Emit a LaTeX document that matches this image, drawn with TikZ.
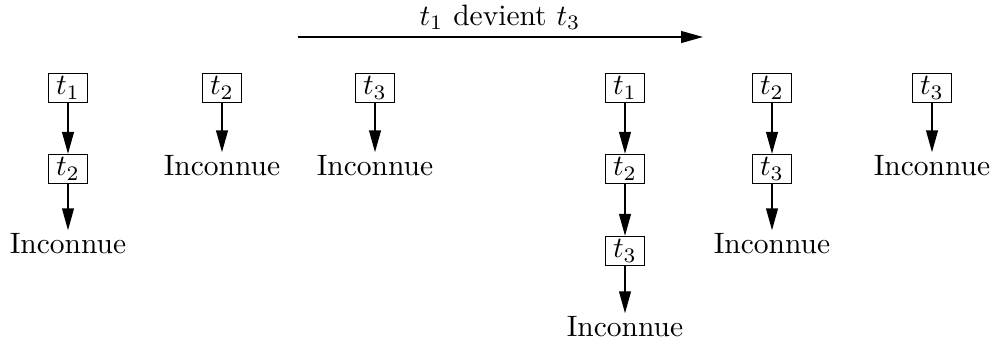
\documentclass[tikz,border=0pt]{standalone}
\usetikzlibrary{arrows.meta}
\begin{document}
\begin{tikzpicture}[x=0.339pt,y=-0.339pt,
  tbox/.style={draw,line width=0.5pt,minimum width=13.2pt,minimum height=9.8pt,inner sep=1pt},
  unk/.style={inner sep=1pt},
  conn/.style={line width=0.5pt,-{Triangle[length=7.4pt,width=4pt]}}]
\useasboundingbox (0,0) rectangle (993,341);
% top arrow
\coordinate (as) at (298,37);
\coordinate (ae) at (703,37);
\draw[conn] (as) -- (ae);
\node (lab) at (500,17) {$t_1$ devient $t_3$};
% column 1
\node[tbox] (a1) at (68,88) {$t_1$};
\node[tbox] (a2) at (68,169) {$t_2$};
\node[unk] (au) at (68,244) {Inconnue};
\draw[conn] (a1) -- (a2);
\draw[conn] (a2) -- (au);
% column 2
\node[tbox] (b1) at (222,88) {$t_2$};
\node[unk] (bu) at (222,166) {Inconnue};
\draw[conn] (b1) -- (bu);
% column 3
\node[tbox] (c1) at (375,88) {$t_3$};
\node[unk] (cu) at (375,166) {Inconnue};
\draw[conn] (c1) -- (cu);
% column 4
\node[tbox] (d1) at (625,88) {$t_1$};
\node[tbox] (d2) at (625,169) {$t_2$};
\node[tbox] (d3) at (625,251) {$t_3$};
\node[unk] (du) at (625,327) {Inconnue};
\draw[conn] (d1) -- (d2);
\draw[conn] (d2) -- (d3);
\draw[conn] (d3) -- (du);
% column 5
\node[tbox] (e1) at (772,88) {$t_2$};
\node[tbox] (e2) at (772,169) {$t_3$};
\node[unk] (eu) at (772,244) {Inconnue};
\draw[conn] (e1) -- (e2);
\draw[conn] (e2) -- (eu);
% column 6
\node[tbox] (f1) at (932,88) {$t_3$};
\node[unk] (fu) at (932,166) {Inconnue};
\draw[conn] (f1) -- (fu);
\end{tikzpicture}
\end{document}
